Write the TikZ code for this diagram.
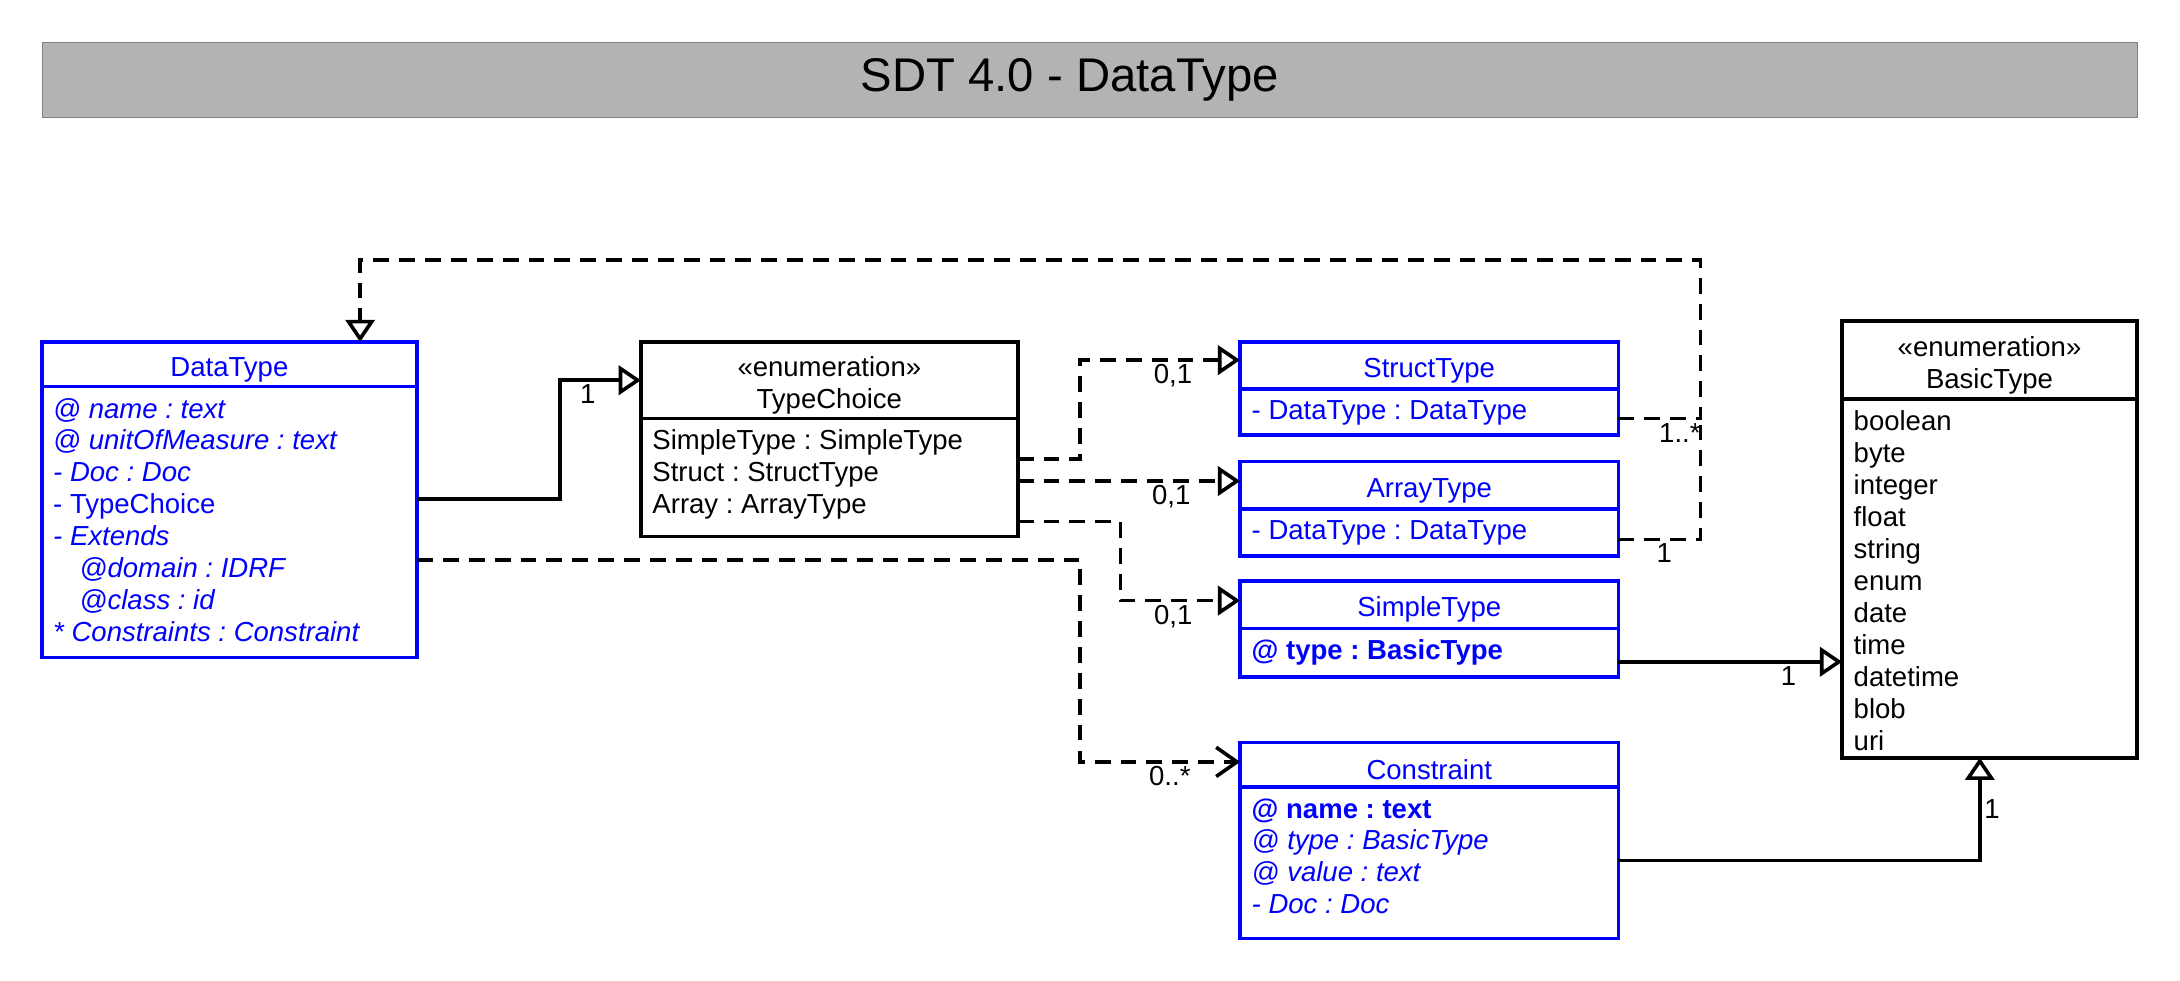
\documentclass[tikz,border=0pt]{standalone}
\usepackage{fontspec}
\setmainfont{Liberation Sans}
\usetikzlibrary{arrows.meta,positioning}
\definecolor{umlblue}{HTML}{0000FF}
\definecolor{titlegray}{HTML}{B3B3B3}
\frenchspacing

\begin{document}
\begin{tikzpicture}[x=1pt,y=-1pt,line width=2.6pt,font=\fontsize{19.8}{23}\selectfont,
    box/.style={draw,outer sep=0pt,inner sep=2pt,align=center},
    blue box/.style={box,draw=umlblue,text=umlblue},
    head/.style={execute at begin node={\rule{0pt}{21.5pt}}},
    rows/.style={anchor=north west,align=left,inner xsep=7pt,inner ysep=7pt},
    lbl/.style={inner sep=2pt},
    gen/.style={-{Triangle[open,length=16pt,width=21pt]}},
    dep/.style={dash pattern=on 11.4pt off 7.2pt},
    use/.style={dep,-{Straight Barb[length=15pt,width=21pt]}}]
    \useasboundingbox (0,0) rectangle (1568,704.9);

    \node[draw=gray,fill=titlegray,line width=0.8pt,anchor=north west,minimum width=1507pt,minimum height=54pt,font=\fontsize{34}{40}\selectfont] (title) at (30,30) {\hspace*{-29pt}SDT 4.0 - DataType};

    \node[blue box,head,anchor=north west,minimum width=270pt,minimum height=32pt] (dt) at (30,246) {DataType};
    \node[blue box,below=0pt of dt,minimum width=270pt,minimum height=195pt] (dtb) {};
    \node[rows,text=umlblue] (dtr) at (dtb.north west) {\textit{@ name : text}\\\textit{@ unitOfMeasure : text}\\\textit{- Doc : Doc}\\- TypeChoice\\\textit{- Extends}\\\hspace*{19pt}\textit{@domain : IDRF}\\\hspace*{19pt}\textit{@class : id}\\\textit{* Constraints : Constraint}};

    \node[box,anchor=north west,minimum width=271pt,minimum height=55pt] (tc) at (461,246) {\rule{0pt}{22pt}«enumeration»\\TypeChoice};
    \node[box,below=0pt of tc,minimum width=271pt,minimum height=85pt] (tcb) {};
    \node[rows] (tcr) at (tcb.north west) {SimpleType : SimpleType\\Struct : StructType\\Array : ArrayType};

    \node[blue box,head,anchor=north west,minimum width=272pt,minimum height=34pt] (st) at (892,246) {StructType};
    \node[blue box,below=0pt of st,minimum width=272pt,minimum height=33pt] (stb) {};
    \node[rows,text=umlblue] (str) at (stb.north west) {- DataType : DataType};

    \node[blue box,head,below=19pt of stb,minimum width=272pt,minimum height=34pt] (at) {ArrayType};
    \node[blue box,below=0pt of at,minimum width=272pt,minimum height=34pt] (atb) {};
    \node[rows,text=umlblue] (atr) at (atb.north west) {- DataType : DataType};

    \node[blue box,head,below=18pt of atb,minimum width=272pt,minimum height=34pt] (sim) {SimpleType};
    \node[blue box,below=0pt of sim,minimum width=272pt,minimum height=35pt] (simb) {};
    \node[rows,text=umlblue] (simr) at (simb.north west) {\textbf{@ type : BasicType}};

    \node[blue box,head,below=47pt of simb,minimum width=272pt,minimum height=32pt] (con) {Constraint};
    \node[blue box,below=0pt of con,minimum width=272pt,minimum height=109pt] (conb) {};
    \node[rows,text=umlblue] (conr) at (conb.north west) {\textbf{@ name : text}\\\textit{@ type : BasicType}\\\textit{@ value : text}\\\textit{- Doc : Doc}};

    \node[box,anchor=north west,minimum width=212pt,minimum height=56pt] (bt) at (1325,231) {\rule{0pt}{22pt}«enumeration»\\BasicType};
    \node[box,below=0pt of bt,minimum width=212pt,minimum height=258pt] (btb) {};
    \node[rows] (btr) at (btb.north west) {boolean\\byte\\integer\\float\\string\\enum\\date\\time\\datetime\\blob\\uri};

    \draw[gen] ([yshift=16.5pt]dtb.east) -- ++(103,0) |- node[lbl,pos=.67,below]{1} (tc.west);
    \draw[dep,gen] ([yshift=-4.5pt]stb.east) -- node[lbl,pos=.75,below]{1..*} ++(59,0) -- ++(0,-114) -| ([xshift=94pt]dt.north);
    \draw[dep] ([yshift=-5pt]atb.east) -- node[lbl,pos=.56,below]{1} ++(59,0) -- ++(0,-87);
    \draw[dep,gen] ([yshift=13.5pt]tcb.east) -- ++(45,0) |- node[lbl,pos=.79,below]{0,1} ([yshift=4pt]st.west);
    \draw[dep,gen] ([yshift=-2.5pt]tcb.east) -- node[lbl,pos=.69,below]{0,1} ([yshift=3pt]at.west);
    \draw[dep,gen] ([yshift=-31.5pt]tcb.east) -- ++(74,0) |- node[lbl,pos=.72,below]{0,1} ([yshift=3pt]sim.west);
    \draw[use] ([yshift=-27.5pt]dtb.east) -- ++(477,0) |- node[lbl,pos=.78,below]{0..*} ([yshift=2pt]con.west);
    \draw[gen] ([yshift=-6.5pt]simb.east) -- node[lbl,pos=.76,below]{1} ([yshift=-60pt]btb.west);
    \draw[gen] ([yshift=1.5pt]conb.east) -| node[lbl,pos=.75,right]{1} ([xshift=-7pt]btb.south);
\end{tikzpicture}
\end{document}
